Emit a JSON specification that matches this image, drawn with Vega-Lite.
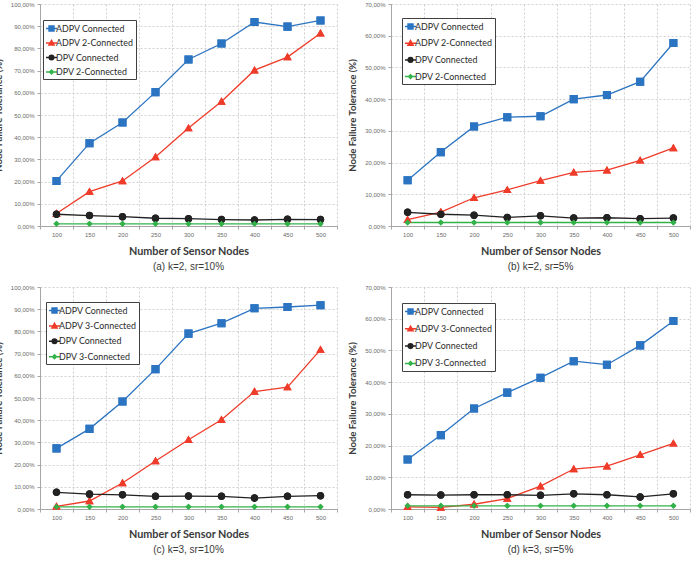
{
  "$schema": "https://vega.github.io/schema/vega-lite/v6.json",
  "padding": {"left": -7, "top": 1, "right": 0, "bottom": 0},
  "background": "white",
  "datasets": {
    "nft": [
      {"p": "a", "n": 100, "s": "ADPV Connected", "v": 20.3},
      {"p": "a", "n": 150, "s": "ADPV Connected", "v": 37.3},
      {"p": "a", "n": 200, "s": "ADPV Connected", "v": 46.6},
      {"p": "a", "n": 250, "s": "ADPV Connected", "v": 60.3},
      {"p": "a", "n": 300, "s": "ADPV Connected", "v": 75.0},
      {"p": "a", "n": 350, "s": "ADPV Connected", "v": 82.2},
      {"p": "a", "n": 400, "s": "ADPV Connected", "v": 91.9},
      {"p": "a", "n": 450, "s": "ADPV Connected", "v": 89.8},
      {"p": "a", "n": 500, "s": "ADPV Connected", "v": 92.6},
      {"p": "a", "n": 100, "s": "ADPV 2-Connected", "v": 5.6},
      {"p": "a", "n": 150, "s": "ADPV 2-Connected", "v": 15.5},
      {"p": "a", "n": 200, "s": "ADPV 2-Connected", "v": 20.3},
      {"p": "a", "n": 250, "s": "ADPV 2-Connected", "v": 31.1},
      {"p": "a", "n": 300, "s": "ADPV 2-Connected", "v": 44.1},
      {"p": "a", "n": 350, "s": "ADPV 2-Connected", "v": 56.1},
      {"p": "a", "n": 400, "s": "ADPV 2-Connected", "v": 70.2},
      {"p": "a", "n": 450, "s": "ADPV 2-Connected", "v": 76.1},
      {"p": "a", "n": 500, "s": "ADPV 2-Connected", "v": 86.8},
      {"p": "a", "n": 100, "s": "DPV Connected", "v": 5.3},
      {"p": "a", "n": 150, "s": "DPV Connected", "v": 4.7},
      {"p": "a", "n": 200, "s": "DPV Connected", "v": 4.2},
      {"p": "a", "n": 250, "s": "DPV Connected", "v": 3.5},
      {"p": "a", "n": 300, "s": "DPV Connected", "v": 3.3},
      {"p": "a", "n": 350, "s": "DPV Connected", "v": 2.9},
      {"p": "a", "n": 400, "s": "DPV Connected", "v": 2.7},
      {"p": "a", "n": 450, "s": "DPV Connected", "v": 3.0},
      {"p": "a", "n": 500, "s": "DPV Connected", "v": 2.9},
      {"p": "a", "n": 100, "s": "DPV 2-Connected", "v": 1.0},
      {"p": "a", "n": 150, "s": "DPV 2-Connected", "v": 1.0},
      {"p": "a", "n": 200, "s": "DPV 2-Connected", "v": 1.0},
      {"p": "a", "n": 250, "s": "DPV 2-Connected", "v": 1.0},
      {"p": "a", "n": 300, "s": "DPV 2-Connected", "v": 1.0},
      {"p": "a", "n": 350, "s": "DPV 2-Connected", "v": 1.0},
      {"p": "a", "n": 400, "s": "DPV 2-Connected", "v": 1.0},
      {"p": "a", "n": 450, "s": "DPV 2-Connected", "v": 1.0},
      {"p": "a", "n": 500, "s": "DPV 2-Connected", "v": 1.0},

      {"p": "b", "n": 100, "s": "ADPV Connected", "v": 14.4},
      {"p": "b", "n": 150, "s": "ADPV Connected", "v": 23.3},
      {"p": "b", "n": 200, "s": "ADPV Connected", "v": 31.4},
      {"p": "b", "n": 250, "s": "ADPV Connected", "v": 34.3},
      {"p": "b", "n": 300, "s": "ADPV Connected", "v": 34.6},
      {"p": "b", "n": 350, "s": "ADPV Connected", "v": 40.0},
      {"p": "b", "n": 400, "s": "ADPV Connected", "v": 41.3},
      {"p": "b", "n": 450, "s": "ADPV Connected", "v": 45.5},
      {"p": "b", "n": 500, "s": "ADPV Connected", "v": 57.7},
      {"p": "b", "n": 100, "s": "ADPV 2-Connected", "v": 2.0},
      {"p": "b", "n": 150, "s": "ADPV 2-Connected", "v": 4.4},
      {"p": "b", "n": 200, "s": "ADPV 2-Connected", "v": 8.9},
      {"p": "b", "n": 250, "s": "ADPV 2-Connected", "v": 11.4},
      {"p": "b", "n": 300, "s": "ADPV 2-Connected", "v": 14.3},
      {"p": "b", "n": 350, "s": "ADPV 2-Connected", "v": 16.9},
      {"p": "b", "n": 400, "s": "ADPV 2-Connected", "v": 17.6},
      {"p": "b", "n": 450, "s": "ADPV 2-Connected", "v": 20.7},
      {"p": "b", "n": 500, "s": "ADPV 2-Connected", "v": 24.6},
      {"p": "b", "n": 100, "s": "DPV Connected", "v": 4.3},
      {"p": "b", "n": 150, "s": "DPV Connected", "v": 3.7},
      {"p": "b", "n": 200, "s": "DPV Connected", "v": 3.4},
      {"p": "b", "n": 250, "s": "DPV Connected", "v": 2.7},
      {"p": "b", "n": 300, "s": "DPV Connected", "v": 3.2},
      {"p": "b", "n": 350, "s": "DPV Connected", "v": 2.5},
      {"p": "b", "n": 400, "s": "DPV Connected", "v": 2.6},
      {"p": "b", "n": 450, "s": "DPV Connected", "v": 2.3},
      {"p": "b", "n": 500, "s": "DPV Connected", "v": 2.5},
      {"p": "b", "n": 100, "s": "DPV 2-Connected", "v": 1.1},
      {"p": "b", "n": 150, "s": "DPV 2-Connected", "v": 1.1},
      {"p": "b", "n": 200, "s": "DPV 2-Connected", "v": 1.1},
      {"p": "b", "n": 250, "s": "DPV 2-Connected", "v": 1.1},
      {"p": "b", "n": 300, "s": "DPV 2-Connected", "v": 1.1},
      {"p": "b", "n": 350, "s": "DPV 2-Connected", "v": 1.1},
      {"p": "b", "n": 400, "s": "DPV 2-Connected", "v": 1.1},
      {"p": "b", "n": 450, "s": "DPV 2-Connected", "v": 1.1},
      {"p": "b", "n": 500, "s": "DPV 2-Connected", "v": 1.1},

      {"p": "c", "n": 100, "s": "ADPV Connected", "v": 27.3},
      {"p": "c", "n": 150, "s": "ADPV Connected", "v": 36.1},
      {"p": "c", "n": 200, "s": "ADPV Connected", "v": 48.4},
      {"p": "c", "n": 250, "s": "ADPV Connected", "v": 63.0},
      {"p": "c", "n": 300, "s": "ADPV Connected", "v": 79.0},
      {"p": "c", "n": 350, "s": "ADPV Connected", "v": 83.7},
      {"p": "c", "n": 400, "s": "ADPV Connected", "v": 90.4},
      {"p": "c", "n": 450, "s": "ADPV Connected", "v": 91.0},
      {"p": "c", "n": 500, "s": "ADPV Connected", "v": 91.8},
      {"p": "c", "n": 100, "s": "ADPV 3-Connected", "v": 1.2},
      {"p": "c", "n": 150, "s": "ADPV 3-Connected", "v": 3.6},
      {"p": "c", "n": 200, "s": "ADPV 3-Connected", "v": 11.7},
      {"p": "c", "n": 250, "s": "ADPV 3-Connected", "v": 21.6},
      {"p": "c", "n": 300, "s": "ADPV 3-Connected", "v": 31.2},
      {"p": "c", "n": 350, "s": "ADPV 3-Connected", "v": 40.2},
      {"p": "c", "n": 400, "s": "ADPV 3-Connected", "v": 52.9},
      {"p": "c", "n": 450, "s": "ADPV 3-Connected", "v": 54.9},
      {"p": "c", "n": 500, "s": "ADPV 3-Connected", "v": 71.8},
      {"p": "c", "n": 100, "s": "DPV Connected", "v": 7.5},
      {"p": "c", "n": 150, "s": "DPV Connected", "v": 6.7},
      {"p": "c", "n": 200, "s": "DPV Connected", "v": 6.4},
      {"p": "c", "n": 250, "s": "DPV Connected", "v": 5.7},
      {"p": "c", "n": 300, "s": "DPV Connected", "v": 5.8},
      {"p": "c", "n": 350, "s": "DPV Connected", "v": 5.7},
      {"p": "c", "n": 400, "s": "DPV Connected", "v": 4.9},
      {"p": "c", "n": 450, "s": "DPV Connected", "v": 5.7},
      {"p": "c", "n": 500, "s": "DPV Connected", "v": 6.0},
      {"p": "c", "n": 100, "s": "DPV 3-Connected", "v": 1.0},
      {"p": "c", "n": 150, "s": "DPV 3-Connected", "v": 1.0},
      {"p": "c", "n": 200, "s": "DPV 3-Connected", "v": 1.0},
      {"p": "c", "n": 250, "s": "DPV 3-Connected", "v": 1.0},
      {"p": "c", "n": 300, "s": "DPV 3-Connected", "v": 1.0},
      {"p": "c", "n": 350, "s": "DPV 3-Connected", "v": 1.0},
      {"p": "c", "n": 400, "s": "DPV 3-Connected", "v": 1.0},
      {"p": "c", "n": 450, "s": "DPV 3-Connected", "v": 1.0},
      {"p": "c", "n": 500, "s": "DPV 3-Connected", "v": 1.0},

      {"p": "d", "n": 100, "s": "ADPV Connected", "v": 15.6},
      {"p": "d", "n": 150, "s": "ADPV Connected", "v": 23.3},
      {"p": "d", "n": 200, "s": "ADPV Connected", "v": 31.7},
      {"p": "d", "n": 250, "s": "ADPV Connected", "v": 36.7},
      {"p": "d", "n": 300, "s": "ADPV Connected", "v": 41.4},
      {"p": "d", "n": 350, "s": "ADPV Connected", "v": 46.6},
      {"p": "d", "n": 400, "s": "ADPV Connected", "v": 45.5},
      {"p": "d", "n": 450, "s": "ADPV Connected", "v": 51.6},
      {"p": "d", "n": 500, "s": "ADPV Connected", "v": 59.3},
      {"p": "d", "n": 100, "s": "ADPV 3-Connected", "v": 0.7},
      {"p": "d", "n": 150, "s": "ADPV 3-Connected", "v": 0.5},
      {"p": "d", "n": 200, "s": "ADPV 3-Connected", "v": 1.5},
      {"p": "d", "n": 250, "s": "ADPV 3-Connected", "v": 3.3},
      {"p": "d", "n": 300, "s": "ADPV 3-Connected", "v": 7.2},
      {"p": "d", "n": 350, "s": "ADPV 3-Connected", "v": 12.6},
      {"p": "d", "n": 400, "s": "ADPV 3-Connected", "v": 13.5},
      {"p": "d", "n": 450, "s": "ADPV 3-Connected", "v": 17.1},
      {"p": "d", "n": 500, "s": "ADPV 3-Connected", "v": 20.7},
      {"p": "d", "n": 100, "s": "DPV Connected", "v": 4.5},
      {"p": "d", "n": 150, "s": "DPV Connected", "v": 4.4},
      {"p": "d", "n": 200, "s": "DPV Connected", "v": 4.5},
      {"p": "d", "n": 250, "s": "DPV Connected", "v": 4.5},
      {"p": "d", "n": 300, "s": "DPV Connected", "v": 4.3},
      {"p": "d", "n": 350, "s": "DPV Connected", "v": 4.8},
      {"p": "d", "n": 400, "s": "DPV Connected", "v": 4.5},
      {"p": "d", "n": 450, "s": "DPV Connected", "v": 3.8},
      {"p": "d", "n": 500, "s": "DPV Connected", "v": 4.8},
      {"p": "d", "n": 100, "s": "DPV 3-Connected", "v": 1.0},
      {"p": "d", "n": 150, "s": "DPV 3-Connected", "v": 1.0},
      {"p": "d", "n": 200, "s": "DPV 3-Connected", "v": 1.0},
      {"p": "d", "n": 250, "s": "DPV 3-Connected", "v": 1.0},
      {"p": "d", "n": 300, "s": "DPV 3-Connected", "v": 1.0},
      {"p": "d", "n": 350, "s": "DPV 3-Connected", "v": 1.0},
      {"p": "d", "n": 400, "s": "DPV 3-Connected", "v": 1.0},
      {"p": "d", "n": 450, "s": "DPV 3-Connected", "v": 1.0},
      {"p": "d", "n": 500, "s": "DPV 3-Connected", "v": 1.0}
    ]
  },
  "data": {"name": "nft"},
  "columns": 2,
  "spacing": {"row": 12, "column": 9},
  "resolve": {"scale": {"color": "independent", "fill": "independent", "stroke": "independent", "shape": "independent", "y": "independent"}, "legend": {"color": "independent", "fill": "independent", "stroke": "independent", "shape": "independent"}},
  "concat": [
    {
      "width": 297, "height": 222,
      "title": {"text": "(a) k=2, sr=10%"},
      "transform": [{"filter": "datum.p === 'a'"}],
      "encoding": {
        "x": {"field": "n", "type": "ordinal", "bandPosition": 0.5, "scale": {"type": "band", "paddingInner": 0, "paddingOuter": 0}, "axis": {"title": "Number of Sensor Nodes"}},
        "y": {"field": "v", "type": "quantitative", "scale": {"domain": [0, 100], "nice": false}, "axis": {"title": "Node Failure Tolerance (%)", "values": [0, 10, 20, 30, 40, 50, 60, 70, 80, 90, 100]}}
      },
      "layer": [
        {"mark": {"type": "point", "filled": true, "opacity": 1, "size": 320, "strokeWidth": 0},
         "encoding": {
           "fill": {"field": "s", "type": "nominal", "scale": {"domain": ["ADPV Connected", "ADPV 2-Connected", "DPV Connected", "DPV 2-Connected"], "range": ["#2b74c2", "#ef3b29", "#222222", "#34b24a"]}, "legend": {"orient": "none", "title": null, "legendX": 3, "legendY": 16, "rowPadding": 2.5}},
           "stroke": {"field": "s", "type": "nominal", "scale": {"domain": ["ADPV Connected", "ADPV 2-Connected", "DPV Connected", "DPV 2-Connected"], "range": ["#2b74c2", "#ef3b29", "#222222", "#34b24a"]}, "legend": {"orient": "none", "title": null, "legendX": 3, "legendY": 16, "rowPadding": 2.5}},
           "shape": {"field": "s", "type": "nominal", "scale": {"domain": ["ADPV Connected", "ADPV 2-Connected", "DPV Connected", "DPV 2-Connected"], "range": ["M-1,0H1M-0.45,-0.45H0.45V0.45H-0.45Z", "M-1,0H1M0,-0.47L0.47,0.36H-0.47Z", "M-1,0H1M0.42,0A0.42,0.42 0 1,1 -0.42,0A0.42,0.42 0 1,1 0.42,0Z", "M-1,0H1M0,-0.34L0.34,0L0,0.34L-0.34,0Z"]}, "legend": {"orient": "none", "title": null, "legendX": 3, "legendY": 16, "rowPadding": 2.5}}
         }},
        {"mark": {"type": "line", "strokeWidth": 1.3},
         "encoding": {"color": {"field": "s", "type": "nominal", "legend": null, "scale": {"domain": ["ADPV Connected", "ADPV 2-Connected", "DPV Connected", "DPV 2-Connected"], "range": ["#2b74c2", "#ef3b29", "#222222", "#34b24a"]}}}},
        {"mark": {"type": "point", "filled": true, "opacity": 1, "size": 320, "strokeWidth": 0},
         "encoding": {
           "fill": {"field": "s", "type": "nominal", "legend": null},
           "stroke": {"field": "s", "type": "nominal", "legend": null},
           "shape": {"field": "s", "type": "nominal", "legend": null}
         }}
      ]
    },
    {
      "width": 299, "height": 222,
      "title": {"text": "(b) k=2, sr=5%"},
      "transform": [{"filter": "datum.p === 'b'"}],
      "encoding": {
        "x": {"field": "n", "type": "ordinal", "bandPosition": 0.5, "scale": {"type": "band", "paddingInner": 0, "paddingOuter": 0}, "axis": {"title": "Number of Sensor Nodes"}},
        "y": {"field": "v", "type": "quantitative", "scale": {"domain": [0, 70], "nice": false}, "axis": {"title": "Node Failure Tolerance (%)", "values": [0, 10, 20, 30, 40, 50, 60, 70]}}
      },
      "layer": [
        {"mark": {"type": "point", "filled": true, "opacity": 1, "size": 320, "strokeWidth": 0},
         "encoding": {
           "fill": {"field": "s", "type": "nominal", "scale": {"domain": ["ADPV Connected", "ADPV 2-Connected", "DPV Connected", "DPV 2-Connected"], "range": ["#2b74c2", "#ef3b29", "#222222", "#34b24a"]}, "legend": {"orient": "none", "title": null, "legendX": 11, "legendY": 14, "rowPadding": 4.7}},
           "stroke": {"field": "s", "type": "nominal", "scale": {"domain": ["ADPV Connected", "ADPV 2-Connected", "DPV Connected", "DPV 2-Connected"], "range": ["#2b74c2", "#ef3b29", "#222222", "#34b24a"]}, "legend": {"orient": "none", "title": null, "legendX": 11, "legendY": 14, "rowPadding": 4.7}},
           "shape": {"field": "s", "type": "nominal", "scale": {"domain": ["ADPV Connected", "ADPV 2-Connected", "DPV Connected", "DPV 2-Connected"], "range": ["M-1,0H1M-0.45,-0.45H0.45V0.45H-0.45Z", "M-1,0H1M0,-0.47L0.47,0.36H-0.47Z", "M-1,0H1M0.42,0A0.42,0.42 0 1,1 -0.42,0A0.42,0.42 0 1,1 0.42,0Z", "M-1,0H1M0,-0.34L0.34,0L0,0.34L-0.34,0Z"]}, "legend": {"orient": "none", "title": null, "legendX": 11, "legendY": 14, "rowPadding": 4.7}}
         }},
        {"mark": {"type": "line", "strokeWidth": 1.3},
         "encoding": {"color": {"field": "s", "type": "nominal", "legend": null, "scale": {"domain": ["ADPV Connected", "ADPV 2-Connected", "DPV Connected", "DPV 2-Connected"], "range": ["#2b74c2", "#ef3b29", "#222222", "#34b24a"]}}}},
        {"mark": {"type": "point", "filled": true, "opacity": 1, "size": 320, "strokeWidth": 0},
         "encoding": {
           "fill": {"field": "s", "type": "nominal", "legend": null},
           "stroke": {"field": "s", "type": "nominal", "legend": null},
           "shape": {"field": "s", "type": "nominal", "legend": null}
         }}
      ]
    },
    {
      "width": 297, "height": 222,
      "title": {"text": "(c) k=3, sr=10%"},
      "transform": [{"filter": "datum.p === 'c'"}],
      "encoding": {
        "x": {"field": "n", "type": "ordinal", "bandPosition": 0.5, "scale": {"type": "band", "paddingInner": 0, "paddingOuter": 0}, "axis": {"title": "Number of Sensor Nodes"}},
        "y": {"field": "v", "type": "quantitative", "scale": {"domain": [0, 100], "nice": false}, "axis": {"title": "Node Failure Tolerance (%)", "values": [0, 10, 20, 30, 40, 50, 60, 70, 80, 90, 100]}}
      },
      "layer": [
        {"mark": {"type": "point", "filled": true, "opacity": 1, "size": 320, "strokeWidth": 0},
         "encoding": {
           "fill": {"field": "s", "type": "nominal", "scale": {"domain": ["ADPV Connected", "ADPV 3-Connected", "DPV Connected", "DPV 3-Connected"], "range": ["#2b74c2", "#ef3b29", "#222222", "#34b24a"]}, "legend": {"orient": "none", "title": null, "legendX": 6, "legendY": 15, "rowPadding": 3.4}},
           "stroke": {"field": "s", "type": "nominal", "scale": {"domain": ["ADPV Connected", "ADPV 3-Connected", "DPV Connected", "DPV 3-Connected"], "range": ["#2b74c2", "#ef3b29", "#222222", "#34b24a"]}, "legend": {"orient": "none", "title": null, "legendX": 6, "legendY": 15, "rowPadding": 3.4}},
           "shape": {"field": "s", "type": "nominal", "scale": {"domain": ["ADPV Connected", "ADPV 3-Connected", "DPV Connected", "DPV 3-Connected"], "range": ["M-1,0H1M-0.45,-0.45H0.45V0.45H-0.45Z", "M-1,0H1M0,-0.47L0.47,0.36H-0.47Z", "M-1,0H1M0.42,0A0.42,0.42 0 1,1 -0.42,0A0.42,0.42 0 1,1 0.42,0Z", "M-1,0H1M0,-0.34L0.34,0L0,0.34L-0.34,0Z"]}, "legend": {"orient": "none", "title": null, "legendX": 6, "legendY": 15, "rowPadding": 3.4}}
         }},
        {"mark": {"type": "line", "strokeWidth": 1.3},
         "encoding": {"color": {"field": "s", "type": "nominal", "legend": null, "scale": {"domain": ["ADPV Connected", "ADPV 3-Connected", "DPV Connected", "DPV 3-Connected"], "range": ["#2b74c2", "#ef3b29", "#222222", "#34b24a"]}}}},
        {"mark": {"type": "point", "filled": true, "opacity": 1, "size": 320, "strokeWidth": 0},
         "encoding": {
           "fill": {"field": "s", "type": "nominal", "legend": null},
           "stroke": {"field": "s", "type": "nominal", "legend": null},
           "shape": {"field": "s", "type": "nominal", "legend": null}
         }}
      ]
    },
    {
      "width": 299, "height": 222,
      "title": {"text": "(d) k=3, sr=5%"},
      "transform": [{"filter": "datum.p === 'd'"}],
      "encoding": {
        "x": {"field": "n", "type": "ordinal", "bandPosition": 0.5, "scale": {"type": "band", "paddingInner": 0, "paddingOuter": 0}, "axis": {"title": "Number of Sensor Nodes"}},
        "y": {"field": "v", "type": "quantitative", "scale": {"domain": [0, 70], "nice": false}, "axis": {"title": "Node Failure Tolerance (%)", "values": [0, 10, 20, 30, 40, 50, 60, 70]}}
      },
      "layer": [
        {"mark": {"type": "point", "filled": true, "opacity": 1, "size": 320, "strokeWidth": 0},
         "encoding": {
           "fill": {"field": "s", "type": "nominal", "scale": {"domain": ["ADPV Connected", "ADPV 3-Connected", "DPV Connected", "DPV 3-Connected"], "range": ["#2b74c2", "#ef3b29", "#222222", "#34b24a"]}, "legend": {"orient": "none", "title": null, "legendX": 11, "legendY": 16, "rowPadding": 5.3}},
           "stroke": {"field": "s", "type": "nominal", "scale": {"domain": ["ADPV Connected", "ADPV 3-Connected", "DPV Connected", "DPV 3-Connected"], "range": ["#2b74c2", "#ef3b29", "#222222", "#34b24a"]}, "legend": {"orient": "none", "title": null, "legendX": 11, "legendY": 16, "rowPadding": 5.3}},
           "shape": {"field": "s", "type": "nominal", "scale": {"domain": ["ADPV Connected", "ADPV 3-Connected", "DPV Connected", "DPV 3-Connected"], "range": ["M-1,0H1M-0.45,-0.45H0.45V0.45H-0.45Z", "M-1,0H1M0,-0.47L0.47,0.36H-0.47Z", "M-1,0H1M0.42,0A0.42,0.42 0 1,1 -0.42,0A0.42,0.42 0 1,1 0.42,0Z", "M-1,0H1M0,-0.34L0.34,0L0,0.34L-0.34,0Z"]}, "legend": {"orient": "none", "title": null, "legendX": 11, "legendY": 16, "rowPadding": 5.3}}
         }},
        {"mark": {"type": "line", "strokeWidth": 1.3},
         "encoding": {"color": {"field": "s", "type": "nominal", "legend": null, "scale": {"domain": ["ADPV Connected", "ADPV 3-Connected", "DPV Connected", "DPV 3-Connected"], "range": ["#2b74c2", "#ef3b29", "#222222", "#34b24a"]}}}},
        {"mark": {"type": "point", "filled": true, "opacity": 1, "size": 320, "strokeWidth": 0},
         "encoding": {
           "fill": {"field": "s", "type": "nominal", "legend": null},
           "stroke": {"field": "s", "type": "nominal", "legend": null},
           "shape": {"field": "s", "type": "nominal", "legend": null}
         }}
      ]
    }
  ],
  "config": {
    "view": {"stroke": null},
    "title": {"orient": "bottom", "anchor": "middle", "font": "Liberation Sans", "fontSize": 10, "fontWeight": "normal", "color": "#3a3a3a", "offset": 6},
    "axis": {
      "domainColor": "#a6a6a6", "domainWidth": 1,
      "grid": true, "gridColor": "#c4c4c4", "gridDash": [2, 2], "gridWidth": 0.8,
      "ticks": true, "tickSize": 3, "tickColor": "#a6a6a6",
      "labelFont": "Liberation Sans", "labelFontSize": 6, "labelColor": "#6a6a6a",
      "titleFont": "Lato", "titleFontWeight": "bold", "titleColor": "#3a3a3a"
    },
    "axisX": {"tickBand": "extent", "labelAngle": 0, "labelPadding": 2, "titleFontSize": 10.8, "titlePadding": 8},
    "axisY": {"labelPadding": 3, "titleFontSize": 9.6, "titlePadding": 7, "labelExpr": "replace(format(datum.value, '.2f'), '.', ',') + '%'"},
    "legend": {
      "fillColor": "white", "strokeColor": "#404040", "padding": 2,
      "labelFont": "Lato", "labelFontSize": 8.9, "labelColor": "#2a2a2a", "labelOffset": -2,
      "symbolSize": 121, "symbolStrokeWidth": 1.5, "symbolOpacity": 1
    }
  }
}
